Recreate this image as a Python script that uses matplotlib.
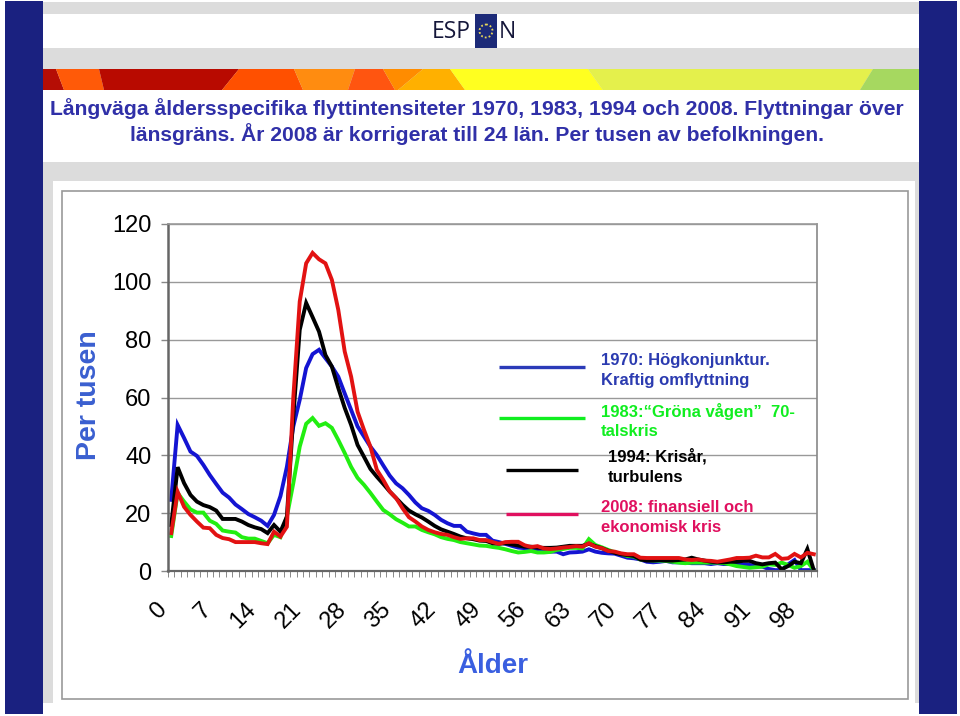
#!/usr/bin/env python3

import matplotlib

matplotlib.use("Agg")
import matplotlib.pyplot as plt
import numpy as np
from matplotlib.patches import Circle, Polygon, Rectangle
from matplotlib.transforms import ScaledTranslation

plt.rcParams["font.family"] = ["Liberation Sans", "DejaVu Sans"]

ages = list(range(101))
y_ticks = [0, 20, 40, 60, 80, 100, 120]
x_labels = list(range(0, 99, 7))

values_1970 = [
    24.6, 50.5, 46, 41.3, 39.8, 36.7, 33.2, 30.1, 27.1, 25.4,
    23, 21.4, 19.7, 18.6, 17.4, 15.6, 19.4, 25.9, 36, 50,
    59.2, 70.2, 75, 76.5, 73.6, 70.7, 67.2, 61.4, 55.7, 50,
    46.5, 43, 40.1, 36.5, 33, 30.3, 28.6, 26.3, 23.7, 21.7,
    20.8, 19.4, 17.7, 16.5, 15.6, 15.6, 13.6, 13, 12.5, 12.5,
    10.5, 10, 9.4, 8.7, 8.1, 7.9, 7.6, 7.4, 6.9, 6.7,
    6.7, 5.8, 6.4, 6.5, 6.7, 7.5, 6.7, 6.3, 6.1, 6,
    5.3, 4.6, 4.4, 4, 3.2, 3, 3.2, 3.5, 3, 3,
    2.9, 2.7, 2.7, 2.7, 2.4, 2.7, 2.4, 2.4, 2.4, 2.3,
    2.1, 1.7, 1.5, 0.7, 0.3, 0.3, 2.3, 3.8, 0.3, 0.3, 0.3,
]
values_1983 = [
    12.1, 27, 24, 21.3, 20.2, 20.2, 17.4, 16.3, 14, 13.6,
    13.3, 11.7, 11.2, 11.2, 10.4, 9.6, 12.5, 11.7, 18.8, 30.4,
    43, 50.9, 52.9, 50.2, 51.1, 49.5, 45.3, 40.8, 36, 32.2,
    29.8, 27, 24, 21.1, 19.6, 17.9, 16.7, 15.4, 15.4, 14.2,
    13.4, 12.7, 11.7, 11.1, 10.7, 10, 9.6, 9.2, 8.8, 8.7,
    8.3, 8, 7.5, 6.9, 6.4, 6.6, 6.9, 6.4, 6.4, 6.6,
    7.3, 7.6, 8, 8, 7.8, 11, 9, 8.2, 7.3, 6.5,
    5.9, 5.2, 5, 4, 3.8, 3.6, 3.6, 3.5, 3.2, 2.9,
    2.7, 2.9, 2.9, 2.9, 2.9, 2.9, 2.7, 2.3, 1.7, 1.4,
    1.1, 1.3, 1.5, 2.3, 2.1, 2.9, 2.1, 1.1, 1.7, 3.2, 0.3,
]
values_1994 = [
    15.9, 35.9, 30.4, 26.3, 24, 22.8, 22.1, 20.9, 18, 18,
    18, 17.1, 15.9, 15.1, 14.5, 13.1, 15.9, 13.6, 18.8, 53.4,
    83.4, 92.7, 87.8, 82.8, 74.7, 70.7, 63.3, 56.4, 50.5, 43.6,
    39.5, 35.3, 32.6, 30.1, 27.5, 25.2, 22.9, 20.9, 19.6, 18.5,
    17.1, 15.6, 14.4, 13.6, 12.8, 11.9, 11.3, 11, 10.5, 10.4,
    9.6, 9.4, 9.6, 9.2, 8.8, 8.4, 8.4, 8.1, 8, 8,
    8.1, 8.4, 8.7, 8.7, 8.7, 9.4, 8.6, 7.9, 7, 6.3,
    5.8, 5.5, 5.2, 4, 3.6, 3.6, 3.8, 3.6, 3.6, 3.8,
    4, 4.6, 4, 3.6, 3.2, 3, 3, 3.2, 3.2, 3.5,
    3.5, 2.7, 2.3, 2.7, 2.9, 0.6, 1.7, 3.2, 2.7, 7.6, 0.3,
]
values_2008 = [
    13.1, 27.4, 22.2, 19.4, 17.1, 15, 14.8, 12.5, 11.4, 11,
    10, 10, 10, 10, 9.6, 9.3, 13.6, 11.9, 15.3, 60,
    93.2, 106.4, 110, 107.8, 106.4, 100.7, 90.3, 75.9, 67.2, 55.1,
    48.8, 43, 35, 31.5, 27.5, 25.2, 21.7, 18.6, 17.1, 15.4,
    14.2, 13.4, 12.8, 12.5, 11.7, 11.1, 11.3, 11.3, 10.7, 10.7,
    10, 9.4, 10, 10.1, 10.1, 8.9, 8.3, 8.6, 7.8, 7.6,
    7.8, 8.1, 8.3, 8.6, 8.4, 9.6, 8.4, 7.9, 6.9, 6.7,
    6.1, 5.8, 5.8, 4.6, 4.5, 4.5, 4.5, 4.5, 4.5, 4.5,
    4, 3.8, 4, 3.6, 3.5, 3.2, 3.6, 4, 4.5, 4.5,
    4.6, 5.3, 4.7, 4.7, 5.9, 4.2, 4.4, 5.9, 4.7, 6.3, 5.8,
]

title_lines = [
    "Långväga åldersspecifika flyttintensiteter 1970, 1983, 1994 och 2008. Flyttningar över",
    "länsgräns. År 2008 är korrigerat till 24 län. Per tusen av befolkningen.",
]

# top-left, bottom-left, top-right, bottom-right, colour of each piece of the map strip
map_strip = [
    (43, 43, 56, 64, "#b50d05"), (56, 64, 99, 104, "#ff5a08"), (99, 104, 239, 222, "#b80a00"),
    (239, 222, 294, 303, "#ff5000"), (294, 303, 355, 348, "#ff8c10"), (355, 348, 383, 395, "#ff5510"),
    (383, 395, 423, 398, "#ff8c00"), (423, 398, 450, 465, "#ffb000"), (450, 465, 588, 603, "#ffff20"),
    (588, 603, 873, 860, "#e4f04c"), (873, 860, 919, 919, "#a6d860"),
]

W, H = 960, 716
BLUE = "#1414d2"
GREEN = "#22ee11"
RED = "#e21212"
NAVY = "#1a2180"
GREY = "#dcdcdc"


def draw_slide(ax):
    ax.set_xlim(0, W)
    ax.set_ylim(H, 0)
    ax.axis("off")

    def box(x0, y0, x1, y1, color, **kw):
        ax.add_patch(Rectangle((x0, y0), x1 - x0, y1 - y0, facecolor=color, edgecolor="none", **kw))

    box(43, 2, 919, 703, GREY)
    box(43, 703, 919, 714, "white")
    box(5, 1, 43, 714, NAVY)
    box(919, 1, 957, 714, NAVY)
    box(43, 14, 919, 48, "white")
    box(43, 90, 919, 162, "white")
    box(53, 181, 915, 703, "white")
    ax.add_patch(Rectangle((62, 191), 846, 508, facecolor="white", edgecolor="#999999", linewidth=1.2))

    for tl, bl, tr, br, color in map_strip:
        ax.add_patch(Polygon([(tl, 69), (tr, 69), (br, 90), (bl, 90)], facecolor=color, edgecolor="none"))

    # logo
    box(475, 14, 497, 48, "#1c2a78")
    ax.add_patch(Circle((486, 31), 6.5, facecolor="none", edgecolor="#e8d85a", linewidth=1.3, linestyle=(0, (1, 1.2))))
    ax.text(432, 32, "ESP", fontsize=16.5, family="Open Sans", color="#15173a", va="center", ha="left")
    ax.text(499, 32, "N", fontsize=16.5, family="Open Sans", color="#15173a", va="center", ha="left")

    for line, y in zip(title_lines, [109, 134]):
        ax.text(477, y, line, fontsize=15.2, fontweight="bold", color="#3030a8", ha="center", va="center")


def draw_overlay(ax):
    ax.set_xlim(0, W)
    ax.set_ylim(H, 0)
    ax.axis("off")
    ax.patch.set_alpha(0)

    ax.plot([499, 585], [366.5, 366.5], color="#2b3bb8", lw=2.4, solid_capstyle="butt")
    ax.plot([499, 585], [418, 418], color="#10ee20", lw=2.4, solid_capstyle="butt")
    ax.plot([506, 578], [470, 470], color="black", lw=2.4, solid_capstyle="butt")
    ax.plot([506, 578], [514, 514], color="#e0105f", lw=2.4, solid_capstyle="butt")

    legend_text = [
        (601, 360, "1970: Högkonjunktur.", "#2b3bb0"),
        (601, 381, "Kraftig omflyttning", "#2b3bb0"),
        (601, 412, "1983:“Gröna vågen”  70-", "#10ee20"),
        (601, 432, "talskris", "#10ee20"),
        (608, 456, "1994: Krisår,", "black"),
        (608, 477, "turbulens", "black"),
        (601, 507, "2008: finansiell och", "#e0105f"),
        (601, 528, "ekonomisk kris", "#e0105f"),
    ]
    for x, y, text, color in legend_text:
        ax.text(x, y, text, fontsize=12, fontweight="bold", color=color, ha="left", va="center")

    ax.text(89, 395, "Per tusen", fontsize=20.5, fontweight="bold", color="#3a5fd0",
            rotation=90, ha="center", va="center")
    ax.text(493, 666, "Ålder", fontsize=20, fontweight="bold", color="#3a5fe0", ha="center", va="center")


def draw_chart(fig):
    ax = fig.add_axes([168 / W, 1 - 571 / H, (817 - 168) / W, (571 - 224) / H])
    ax.plot(ages, values_1970, color=BLUE, lw=2.8, solid_joinstyle="miter")
    ax.plot(ages, values_1983, color=GREEN, lw=2.8, solid_joinstyle="miter")
    ax.plot(ages, values_1994, color="black", lw=2.8, solid_joinstyle="miter")
    ax.plot(ages, values_2008, color=RED, lw=2.8, solid_joinstyle="miter")

    ax.set_xlim(-0.5, 100.5)
    ax.set_ylim(0, 120)
    ax.set_yticks(y_ticks)
    ax.tick_params(axis="y", labelsize=17, length=5, color="#888888", pad=7, width=1)
    ax.yaxis.grid(True, color="#999999", lw=1)
    ax.set_axisbelow(True)

    ax.set_xticks(x_labels)
    ax.set_xticklabels(x_labels, rotation=45, ha="right", rotation_mode="anchor", fontsize=17)
    ax.set_xticks(np.array(ages + [101]) - 0.5, minor=True)
    ax.tick_params(axis="x", which="major", length=0, pad=20)
    ax.tick_params(axis="x", which="minor", length=4, color="#888888", width=0.7)
    shift = ScaledTranslation(-16 / 100, 0, fig.dpi_scale_trans)
    for label in ax.get_xticklabels():
        label.set_transform(label.get_transform() + shift)

    for side, width, color in [("left", 1.8, "#666666"), ("bottom", 1.6, "#666666"),
                               ("top", 1.2, "#999999"), ("right", 1.2, "#888888")]:
        ax.spines[side].set_linewidth(width)
        ax.spines[side].set_color(color)
    return ax


def main():
    fig = plt.figure(figsize=(9.6, 7.16), dpi=100, facecolor="white")
    bg = fig.add_axes([0, 0, 1, 1], zorder=0)
    draw_slide(bg)
    chart = draw_chart(fig)
    chart.set_zorder(1)
    fg = fig.add_axes([0, 0, 1, 1], zorder=2)
    draw_overlay(fg)
    fig.savefig("out.png", dpi=100)
    plt.close(fig)


if __name__ == "__main__":
    main()
